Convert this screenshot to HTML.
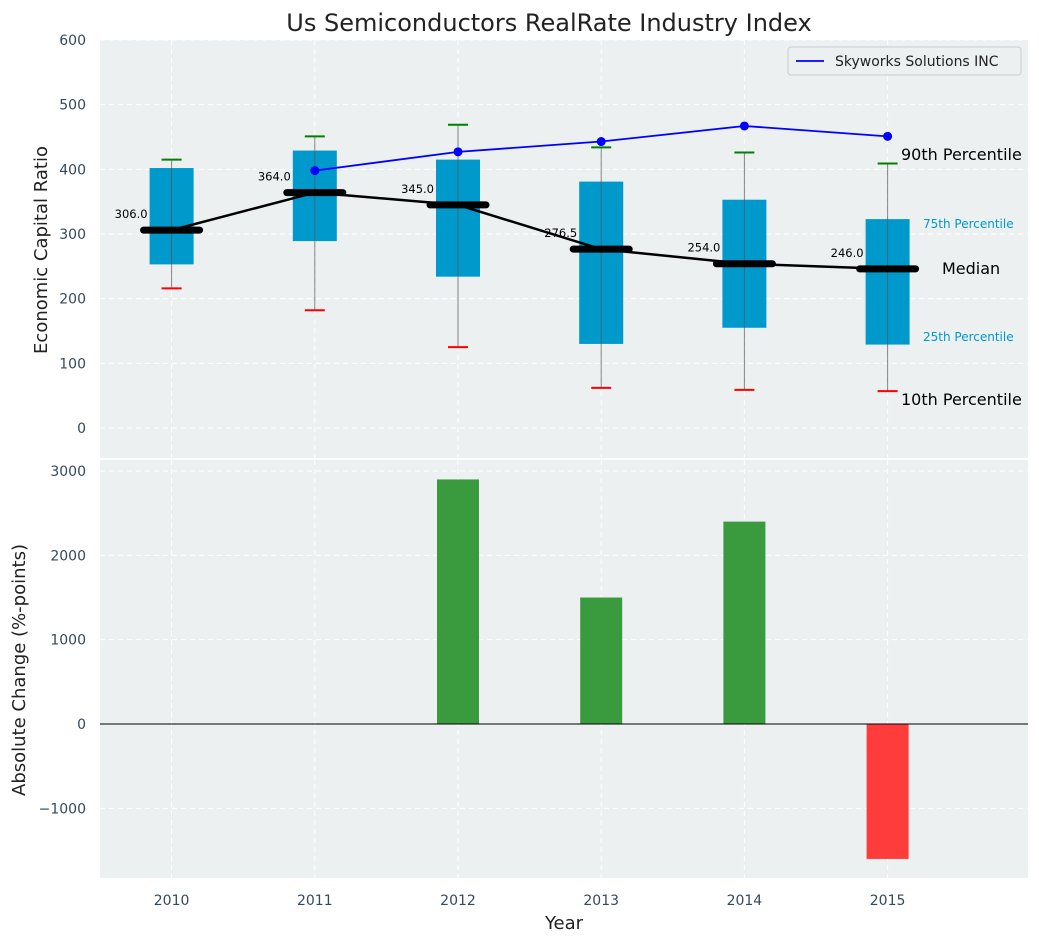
<!DOCTYPE html>
<html><head><meta charset="utf-8"><style>
body{margin:0;background:#fff;font-family:"Liberation Sans","DejaVu Sans",sans-serif}
svg text{font-family:"DejaVu Sans","Liberation Sans",sans-serif}
</style></head><body>
<svg id="c" width="1039" height="942" xmlns="http://www.w3.org/2000/svg"></svg>
<script>
const years=[2010,2011,2012,2013,2014,2015];
const p10=[216,182,125,62,59,57];
const p25=[253,289,234,130,155,129];
const med=[306,364,345,276.5,254,246];
const p75=[402,429,415,381,353,323];
const p90=[415,451,469,434,426,409];
const swksYears=[2011,2012,2013,2014,2015];
const swks=[398,427,443,467,451];
const barYears=[2012,2013,2014,2015];
const barVals=[2900,1500,2400,-1600];
const topTicks=[0,100,200,300,400,500,600];
const botTicks=[-1000,0,1000,2000,3000];

const NS="http://www.w3.org/2000/svg";
const svg=document.getElementById('c');
function mk(t,a,p){const e=document.createElementNS(NS,t);for(const k in a)e.setAttribute(k,a[k]);(p||svg).appendChild(e);return e;}
const X=v=>100+(v-2009.5)*143.2;
const Y1=v=>428-v*0.6467;
const Y2=v=>724-v*0.08433;

// backgrounds
const bg1=mk('rect',{x:100,y:40,width:928,height:418,fill:'#ecf0f1'});

const bg2=mk('rect',{x:100,y:460,width:928,height:418,fill:'#ecf0f1'});


// grids
years.forEach(y=>{
 mk('line',{x1:X(y),x2:X(y),y1:40,y2:458,stroke:'#fff','stroke-dasharray':'5,4'});
 mk('line',{x1:X(y),x2:X(y),y1:460,y2:878,stroke:'#fff','stroke-dasharray':'5,4'});
 const t=mk('text',{x:X(y),y:905,'font-size':14,fill:'#34495e','text-anchor':'middle'});t.textContent=y;
 
});
topTicks.forEach(v=>{
 mk('line',{x1:100,x2:1028,y1:Y1(v),y2:Y1(v),stroke:'#fff','stroke-dasharray':'5,4'});
 const t=mk('text',{x:86,y:Y1(v)+5,'font-size':14,fill:'#34495e','text-anchor':'end'});t.textContent=v;
 
});
botTicks.forEach(v=>{
 mk('line',{x1:100,x2:1028,y1:Y2(v),y2:Y2(v),stroke:'#fff','stroke-dasharray':'5,4'});
 const t=mk('text',{x:86,y:Y2(v)+5,'font-size':14,fill:'#34495e','text-anchor':'end'});t.textContent=v<0?'\u2212'+(-v):v;
 
});

// boxes
years.forEach((y,i)=>{
 const cx=X(y);
 const b=mk('rect',{x:cx-22,y:Y1(p75[i]),width:44,height:Y1(p25[i])-Y1(p75[i]),fill:'#0099cc'});
 
 const w=mk('line',{x1:cx,x2:cx,y1:Y1(p10[i]),y2:Y1(p90[i]),stroke:'#555','stroke-width':1,opacity:0.7});
 
 const c1=mk('line',{x1:cx-10,x2:cx+10,y1:Y1(p90[i]),y2:Y1(p90[i]),stroke:'green','stroke-width':2});
 
 const c2=mk('line',{x1:cx-10,x2:cx+10,y1:Y1(p10[i]),y2:Y1(p10[i]),stroke:'red','stroke-width':2});
 
});
// median line
const ml=mk('polyline',{points:years.map((y,i)=>X(y)+','+Y1(med[i])).join(' '),fill:'none',stroke:'#000','stroke-width':2.5});

years.forEach((y,i)=>{
 const cx=X(y);
 const m=mk('line',{x1:cx-28,x2:cx+28,y1:Y1(med[i]),y2:Y1(med[i]),stroke:'#000','stroke-width':7,'stroke-linecap':'round'});
 
 const t=mk('text',{x:cx-24,y:Y1(med[i])-12,'font-size':11.5,fill:'#000','text-anchor':'end'});t.textContent=med[i].toFixed(1);
 
});
// company line
const sl=mk('polyline',{points:swksYears.map((y,i)=>X(y)+','+Y1(swks[i])).join(' '),fill:'none',stroke:'#0000ff','stroke-width':1.8});

swksYears.forEach((y,i)=>{
 const p=mk('circle',{cx:X(y),cy:Y1(swks[i]),r:4.5,fill:'#0000ff'});
 
});
// percentile labels
[['90th Percentile',901,160,16,'#000'],['75th Percentile',923,228,12,'#0099cc'],['Median',942,274,16,'#000'],['25th Percentile',923,341,12,'#0099cc'],['10th Percentile',901,405,16,'#000']].forEach(a=>{
 const t=mk('text',{x:a[1],y:a[2],'font-size':a[3],fill:a[4]});t.textContent=a[0];
 
});
// legend
const lg=mk('g',{});
mk('rect',{x:788,y:47,width:233,height:28,rx:3,fill:'#ecf0f1',stroke:'#ccc'},lg);
mk('line',{x1:796,x2:824,y1:61,y2:61,stroke:'#0000ff','stroke-width':1.8},lg);
const lt=mk('text',{x:835,y:66,'font-size':14,fill:'#222'},lg);lt.textContent='Skyworks Solutions INC';

// bars
barYears.forEach((y,i)=>{
 const v=barVals[i];
 const r=mk('rect',{x:X(y)-21,y:Math.min(Y2(v),Y2(0)),width:42,height:Math.abs(Y2(v)-Y2(0)),fill:v>=0?'#3a9b3e':'#ff3c3c'});
 
});
const zl=mk('line',{x1:100,x2:1028,y1:Y2(0),y2:Y2(0),stroke:'#000','stroke-width':1});


// titles
const tt=mk('text',{x:549,y:31,'font-size':24,fill:'#222','text-anchor':'middle'});tt.textContent='Us Semiconductors RealRate Industry Index';

const xt=mk('text',{x:564,y:929,'font-size':18,fill:'#222','text-anchor':'middle'});xt.textContent='Year';

const y1t=mk('text',{x:0,y:0,'font-size':18,fill:'#222','text-anchor':'middle',transform:'translate(47,250) rotate(-90)'});y1t.textContent='Economic Capital Ratio';

const y2t=mk('text',{x:0,y:0,'font-size':18,fill:'#222','text-anchor':'middle',transform:'translate(25,670) rotate(-90)'});y2t.textContent='Absolute Change (%-points)';

</script>
</body></html>
